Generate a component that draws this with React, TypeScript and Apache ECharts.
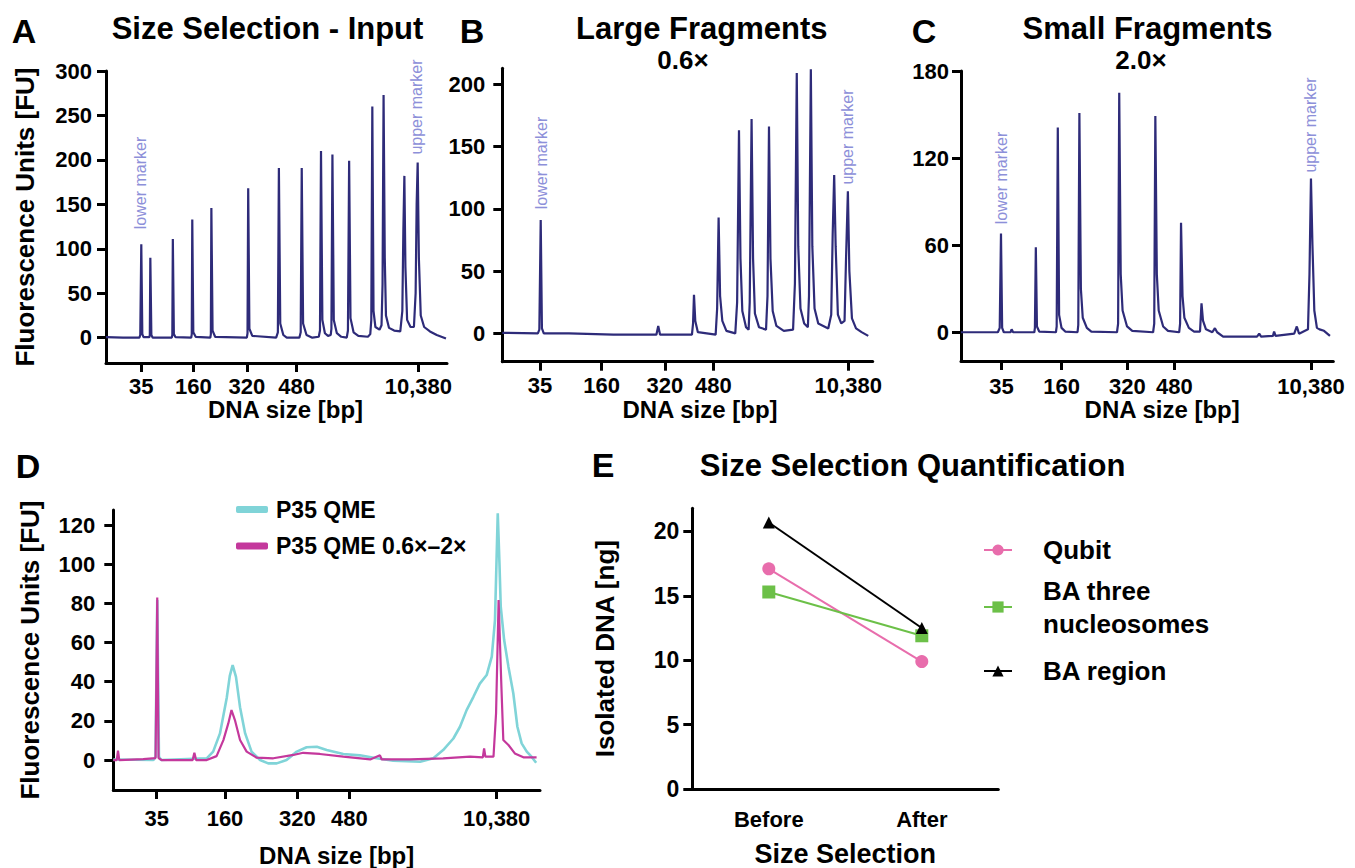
import React, { useEffect, useRef } from 'react';
import * as echarts from 'echarts';

// ---------- DATA ----------
const bpTickLabels = ['35', '160', '320', '480', '10,380'];
// positions of the bp ladder ticks along each run's migration axis (0-100 units)
const bpTickPosA = [10.35, 25.6, 41.3, 55.9, 91.6];
const bpTickPosB = [10.2, 26.8, 43.9, 57.0, 93.4];
const bpTickPosC = [10.9, 27.0, 44.7, 57.3, 94.0];
const bpTickPosD = [10.17, 26.18, 43.13, 55.31, 89.85];

const fuTicksA = [0, 50, 100, 150, 200, 250, 300];
const fuTicksB = [0, 50, 100, 150, 200];
const fuTicksC = [0, 60, 120, 180];
const fuTicksD = [0, 20, 40, 60, 80, 100, 120];
const ngTicksE = [0, 5, 10, 15, 20];

// electropherogram traces: [migration, FU]
const traceInput = [
  [0, 0.5], [5, 0], [9.8, 0], [10.05, 3], [10.35, 105], [10.65, 4], [11.0, 0.5],
  [12.7, 0.5], [12.85, 3], [13.0, 90], [13.3, 3], [13.7, 0],
  [19.3, 0], [19.45, 3], [19.6, 111], [19.9, 4], [20.4, 0.5],
  [25.0, 0], [25.15, 4], [25.3, 133], [25.6, 6], [26.3, 1],
  [30.6, 0], [30.75, 4], [30.9, 146], [31.25, 8], [32.0, 1],
  [41.3, 0], [41.5, 5], [41.7, 168], [42.05, 10], [42.9, 2],
  [49.9, 0], [50.4, 6], [50.7, 191], [51.1, 16], [52.0, 3], [53.0, 0],
  [56.7, 0], [57.1, 6], [57.4, 191], [57.8, 16], [58.8, 3], [60.5, 0],
  [62.4, 1], [62.75, 8], [63.05, 210], [63.45, 20], [64.2, 5], [65.1, 2],
  [65.9, 3], [66.1, 10], [66.4, 206], [66.8, 20], [67.7, 5], [69.0, 1],
  [70.6, 0], [70.95, 8], [71.3, 199], [71.7, 22], [72.6, 6], [74.0, 2], [76.8, 1],
  [77.5, 4], [77.8, 20], [78.1, 260], [78.45, 30], [79.0, 12], [80.2, 9],
  [80.8, 14], [81.1, 60], [81.4, 273], [81.75, 90], [82.1, 25], [83.0, 11], [84.5, 8], [86.3, 7],
  [86.9, 30], [87.2, 120], [87.5, 182], [87.8, 80], [88.3, 20], [89.3, 12], [90.3, 12],
  [90.8, 50], [91.1, 150], [91.4, 197], [91.75, 90], [92.3, 25], [93.3, 12], [95.0, 7], [97.0, 3], [99.7, -1],
];

const traceLarge = [
  [0, 0.5], [9.6, 0], [10.0, 3], [10.37, 91], [10.7, 4], [11.2, 0], [18, 0], [30, -1],
  [41.6, -1], [42.1, 6], [42.6, -1], [51.2, -1], [51.5, 8], [51.75, 31], [52.1, 10], [52.8, 1],
  [57.6, -1], [58.0, 20], [58.4, 93], [58.8, 30], [59.4, 10], [60.5, 2],
  [62.9, 0], [63.4, 25], [63.9, 163], [64.3, 60], [64.8, 18], [65.8, 5],
  [66.5, 3], [66.8, 25], [67.3, 172], [67.7, 60], [68.2, 16], [69.3, 5],
  [71.2, 3], [71.6, 30], [72.0, 166], [72.4, 60], [73.0, 18], [74.0, 6], [76.0, 2],
  [78.5, 3], [79.0, 40], [79.5, 209], [79.9, 70], [80.5, 20], [81.5, 8],
  [82.5, 5], [82.8, 30], [83.3, 212], [83.7, 70], [84.3, 20], [85.3, 8], [88.0, 4],
  [88.8, 15], [89.2, 80], [89.6, 127], [90.0, 70], [90.6, 15], [91.5, 8],
  [92.4, 10], [92.8, 60], [93.3, 114], [93.7, 50], [94.4, 12], [95.5, 4], [97.0, 1], [98.8, -2],
];

const traceSmall = [
  [0, 0], [9.9, 0], [10.4, 3], [10.74, 68], [11.05, 3], [11.5, 0], [13.3, 0], [13.6, 2], [14.0, 0],
  [19.7, 0], [19.85, 3], [20.1, 58.5], [20.4, 4], [21.0, 0.5],
  [25.5, 0], [25.7, 4], [26.0, 141], [26.35, 12], [27.0, 3], [28.0, 0.5],
  [31.3, 0], [31.5, 5], [31.8, 151], [32.2, 30], [32.7, 10], [33.8, 3], [35.0, 0.5],
  [41.9, 0], [42.2, 6], [42.5, 165], [42.9, 40], [43.4, 15], [44.6, 4], [46.0, 1],
  [51.6, 0], [51.9, 6], [52.2, 149], [52.6, 40], [53.1, 15], [54.3, 4], [55.6, 1],
  [58.6, 0], [58.85, 6], [59.1, 75.5], [59.5, 25], [60.0, 10], [61.2, 3], [62.6, 0.5],
  [64.2, 0.5], [64.6, 20], [65.0, 8], [65.8, 2], [67.5, 0], [68.2, 2.8], [68.8, 0],
  [70.4, -3], [79.5, -3], [80.1, -1], [80.6, -3], [83.8, -2.5], [84.1, 0.5], [84.5, -2.5],
  [89.5, -1], [90.2, 4], [90.8, -1], [93.2, 2], [93.6, 40], [94.0, 106], [94.4, 60], [94.9, 15],
  [95.6, 3], [96.3, 2], [97.5, 1], [99.1, -2.5],
];

const traceQme = [
  [0, 0.3], [9.4, 0], [9.9, 1.7], [10.3, 81.7], [10.7, 1.7], [11.2, 0], [21.9, 0.9], [23.4, 4.3],
  [25.0, 13.6], [26.6, 32], [27.3, 43], [27.97, 48.5], [28.75, 42.5], [29.7, 27], [30.9, 13.6],
  [32.4, 4.3], [34.4, 0], [36.3, -1.7], [38.3, -1.7], [40.6, 0], [43.0, 4.3], [45.3, 6.5],
  [47.7, 6.8], [50.0, 5.1], [53.9, 3.1], [57.8, 2.4], [61.7, 0.9], [65.6, -0.3], [71.9, -0.9],
  [75.0, 0.9], [77.3, 5.1], [79.7, 11], [81.25, 17], [82.8, 25.5], [84.4, 32.3], [85.9, 39],
  [87.5, 43.4], [88.7, 52.8], [89.45, 71.5], [90.1, 126], [90.5, 100.4], [90.8, 78.3],
  [91.6, 61.3], [92.6, 47.7], [93.75, 34], [94.7, 17], [95.7, 8.5], [96.9, 4.3], [98.0, 1.7], [99.1, -1.4],
];

const traceQmeSelected = [
  [0, 0], [0.8, 0], [1.1, 4.8], [1.4, 0], [7.0, 0.5], [9.9, 1], [10.3, 83], [10.6, 1], [11.3, 0],
  [18.6, 0], [19.0, 3.7], [19.4, 0], [21.9, 0], [24.2, 2], [25.8, 10.2], [26.95, 18.7], [27.7, 25.5],
  [28.5, 20.4], [29.7, 10.2], [31.25, 4.3], [33.6, 1.2], [37.5, 0.9], [42.2, 2.6], [44.5, 3.7],
  [48.4, 3.1], [53.9, 1.7], [60.2, 0.3], [62.5, 2.4], [62.9, 0.3], [69.5, 0.3], [77.3, 0.9],
  [83.6, 1.7], [86.6, 1.4], [86.9, 6], [87.2, 1.7], [89.1, 1.7], [89.7, 23.8], [90.3, 81.7],
  [90.9, 40.9], [91.4, 10.2], [92.6, 7.7], [94.1, 3.4], [96.1, 1.4], [99.2, 1.4],
];

const selectionCategories = ['Before', 'After'];
const qubitNg = [17.1, 9.9];
const baThreeNucleosomesNg = [15.3, 11.9];
const baRegionNg = [20.7, 12.5];

// ---------- STYLE ----------
const FONT = "'Liberation Sans', Arial, Helvetica, sans-serif";
const INK = '#000000';
const NAVY = '#2e2b79';
const MARKER_TXT = '#8d90d9';
const CYAN = '#80d4d8';
const MAGENTA = '#c4389c';
const PINK = '#e86dac';
const GREEN = '#6cc048';
const TICK_LEN = 9;
const AXIS_W = 3;

function axisLine() {
  return { show: true, onZero: false, lineStyle: { color: INK, width: AXIS_W } };
}
function axisTick(ticks: number[]) {
  return { show: true, customValues: ticks, length: TICK_LEN, inside: false, lineStyle: { color: INK, width: AXIS_W } };
}

function bpAxis(gridIndex: number, ticks: number[], margin: number, nameGap: number, namePad: number, fontSize = 22) {
  return {
    type: 'value', gridIndex, min: 0, max: 100,
    axisLine: axisLine(),
    axisTick: axisTick(ticks),
    axisLabel: {
      show: true, customValues: ticks, margin, fontSize, fontWeight: 'bold', color: INK, fontFamily: FONT,
      formatter: (v: number) => {
        const i = ticks.findIndex((t) => Math.abs(t - v) < 1e-6);
        return i >= 0 ? bpTickLabels[i] : '';
      },
    },
    splitLine: { show: false },
    name: 'DNA size [bp]', nameLocation: 'middle', nameGap,
    nameTextStyle: { fontSize: 24, fontWeight: 'bold', color: INK, fontFamily: FONT, padding: [0, 0, 0, namePad] },
  };
}

function valAxis(gridIndex: number, min: number, max: number, ticks: number[], margin: number, name = '', nameGap = 0, fontSize = 22) {
  return {
    type: 'value', gridIndex, min, max,
    axisLine: axisLine(),
    axisTick: axisTick(ticks),
    axisLabel: { show: true, customValues: ticks, margin, fontSize, fontWeight: 'bold', color: INK, fontFamily: FONT },
    splitLine: { show: false },
    name, nameLocation: 'middle', nameGap,
    nameTextStyle: { fontSize: 26, fontWeight: 'bold', color: INK, fontFamily: FONT },
  };
}

function txt(x: number, y: number, text: string, size: number, weight = 'bold', fill = INK, rotation = 0) {
  return {
    type: 'text', x, y, rotation, silent: true,
    style: { text, fontSize: size, fontWeight: weight, fontFamily: FONT, fill, align: 'center', verticalAlign: 'middle' },
  };
}

function trace(xi: number, data: number[][], color: string, width: number, name?: string) {
  return {
    type: 'line', name, xAxisIndex: xi, yAxisIndex: xi, data, showSymbol: false, symbol: 'none',
    lineStyle: { color, width }, itemStyle: { color }, silent: true, clip: false,
  };
}

const legendText = { fontSize: 26, fontWeight: 'bold', color: INK, fontFamily: FONT, lineHeight: 33, padding: [0, 0, 0, 26] };

const option = {
  animation: false,
  backgroundColor: '#ffffff',
  grid: [
    { left: 106, top: 71, width: 341, height: 292 },
    { left: 502.3, top: 68.3, width: 370.4, height: 293.4 },
    { left: 961, top: 71, width: 372.3, height: 290 },
    { left: 113.3, top: 510, width: 426.7, height: 280 },
    { left: 692.3, top: 508.3, width: 306, height: 281.7 },
  ],
  xAxis: [
    bpAxis(0, bpTickPosA, 12, 33, 18),
    bpAxis(1, bpTickPosB, 13, 34, 25),
    bpAxis(2, bpTickPosC, 14, 35, 30),
    bpAxis(3, bpTickPosD, 17, 53, 20),
    {
      type: 'category', gridIndex: 4, data: selectionCategories, boundaryGap: true,
      axisLine: axisLine(), axisTick: { show: false },
      axisLabel: { margin: 19, fontSize: 22, fontWeight: 'bold', color: INK, fontFamily: FONT },
      name: 'Size Selection', nameLocation: 'middle', nameGap: 51,
      nameTextStyle: { fontSize: 27, fontWeight: 'bold', color: INK, fontFamily: FONT },
    },
  ],
  yAxis: [
    valAxis(0, -28.5, 300, fuTicksA, 14, 'Fluorescence Units [FU]', 68),
    valAxis(1, -22.7, 212.7, fuTicksB, 17),
    valAxis(2, -19.8, 180, fuTicksC, 12),
    valAxis(3, -15.3, 127.7, fuTicksD, 18, 'Fluorescence Units [FU]', 70),
    valAxis(4, 0, 21.8, ngTicksE, 13, 'Isolated DNA [ng]', 74, 23),
  ],
  legend: [
    {
      data: ['P35 QME', 'P35 QME 0.6×–2×'], left: 231, top: 493, orient: 'vertical',
      icon: 'roundRect', itemWidth: 32, itemHeight: 7, itemGap: 13.5, selectedMode: false,
      textStyle: { fontSize: 23, fontWeight: 'bold', color: INK, fontFamily: FONT, padding: [0, 0, 0, 3] },
    },
    { data: ['Qubit'], left: 978, top: 528.5, itemWidth: 28, itemHeight: 14, selectedMode: false, textStyle: legendText },
    {
      data: ['BA three nucleosomes'], left: 978, top: 569, itemWidth: 28, itemHeight: 14, selectedMode: false,
      textStyle: legendText, formatter: () => 'BA three\nnucleosomes',
    },
    { data: ['BA region'], left: 978, top: 649.5, itemWidth: 28, itemHeight: 14, selectedMode: false, textStyle: legendText },
  ],
  graphic: [
    txt(24, 31, 'A', 34), txt(267.5, 28, 'Size Selection - Input', 31),
    txt(472, 31, 'B', 34), txt(701.7, 28, 'Large Fragments', 31), txt(683, 60, '0.6×', 26),
    txt(924, 31, 'C', 34), txt(1147.5, 28, 'Small Fragments', 31), txt(1141, 60, '2.0×', 26),
    txt(28, 466, 'D', 34),
    txt(603, 465, 'E', 34), txt(912.6, 465, 'Size Selection Quantification', 31),
    txt(140, 183, 'lower marker', 16, 'normal', MARKER_TXT, Math.PI / 2),
    txt(416.7, 107, 'upper marker', 16, 'normal', MARKER_TXT, Math.PI / 2),
    txt(541.7, 163, 'lower marker', 16, 'normal', MARKER_TXT, Math.PI / 2),
    txt(847.3, 137, 'upper marker', 16, 'normal', MARKER_TXT, Math.PI / 2),
    txt(1001, 178, 'lower marker', 16, 'normal', MARKER_TXT, Math.PI / 2),
    txt(1310.7, 125, 'upper marker', 16, 'normal', MARKER_TXT, Math.PI / 2),
  ],
  series: [
    trace(0, traceInput, NAVY, 2.2),
    trace(1, traceLarge, NAVY, 2.2),
    trace(2, traceSmall, NAVY, 2.2),
    trace(3, traceQme, CYAN, 2.6, 'P35 QME'),
    trace(3, traceQmeSelected, MAGENTA, 2.2, 'P35 QME 0.6×–2×'),
    {
      type: 'line', name: 'Qubit', xAxisIndex: 4, yAxisIndex: 4, data: qubitNg,
      symbol: 'circle', symbolSize: 13, lineStyle: { color: PINK, width: 2 }, itemStyle: { color: PINK },
    },
    {
      type: 'line', name: 'BA three nucleosomes', xAxisIndex: 4, yAxisIndex: 4, data: baThreeNucleosomesNg,
      symbol: 'rect', symbolSize: 13, lineStyle: { color: GREEN, width: 2 }, itemStyle: { color: GREEN },
    },
    {
      type: 'line', name: 'BA region', xAxisIndex: 4, yAxisIndex: 4, data: baRegionNg,
      symbol: 'triangle', symbolSize: 12, lineStyle: { color: '#000', width: 2 }, itemStyle: { color: '#000' },
    },
  ],
};

export default function App() {
  const ref = useRef<HTMLDivElement>(null);
  useEffect(() => {
    if (!ref.current) return;
    const chart = echarts.init(ref.current, null, { renderer: 'svg' });
    chart.setOption(option as any);
    return () => chart.dispose();
  }, []);
  return (
    <div
      ref={ref}
      style={{ position: 'fixed', left: 0, top: 0, width: 1355, height: 868, background: '#fff' }}
    />
  );
}
